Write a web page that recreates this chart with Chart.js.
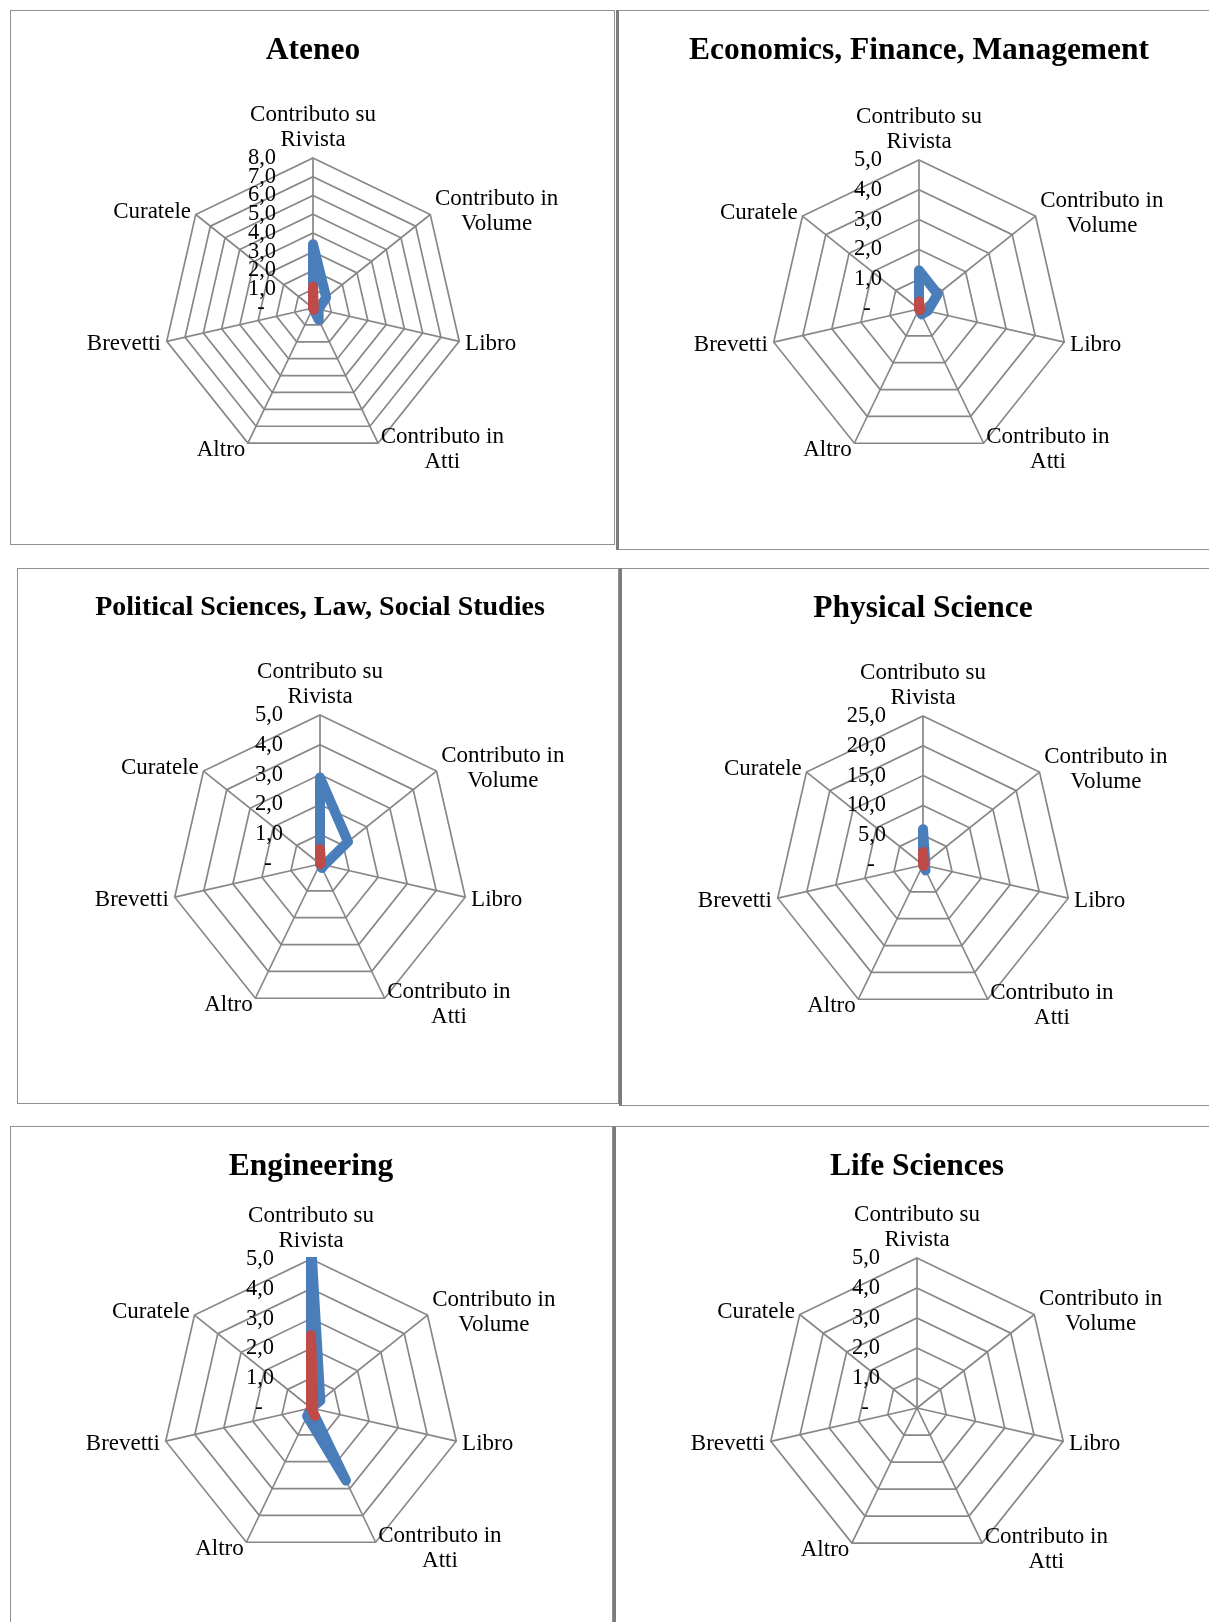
<!DOCTYPE html>
<html>
<head>
<meta charset="utf-8">
<script src="https://cdn.jsdelivr.net/npm/chart.js@4.4.1/dist/chart.umd.min.js"></script>
<style>
  html, body { margin: 0; padding: 0; background: #ffffff; }
  body { width: 1209px; height: 1622px; position: relative; overflow: hidden; }
  .frame { position: absolute; box-sizing: border-box; border: 1.5px solid #8e8e8e; }
  .frame.thick-left { border-left: 3px solid #7c7c7c; }
  canvas { position: absolute; }
</style>
</head>
<body>
<script>
// Publication types (axes of every radar)
const categories = [["Contributo su", "Rivista"], ["Contributo in", "Volume"], "Libro", ["Contributo in", "Atti"], "Altro", "Brevetti", "Curatele"];

const titles = ["Ateneo", "Economics, Finance, Management", "Political Sciences, Law, Social Studies", "Physical Science", "Engineering", "Life Sciences"];

// Series 1 (blue) and series 2 (red), one pair per area
const ateneoBlue = [3.4, 0.9, 0.3, 0.7, 0, 0, 0];
const ateneoRed = [1.15, 0.05, 0, 0.1, 0, 0, 0];
const economicsBlue = [1.3, 0.8, 0.3, 0.2, 0, 0, 0];
const economicsRed = [0.25, 0.05, 0.05, 0.05, 0, 0, 0];
const politicalBlue = [2.9, 1.2, 0.15, 0.15, 0, 0, 0];
const politicalRed = [0.5, 0.05, 0, 0, 0, 0, 0];
const physicalBlue = [6.0, 0.5, 0.3, 1.0, 0, 0, 0];
const physicalRed = [2.2, 0.2, 0.1, 0.2, 0, 0, 0];
const engineeringBlue = [5.6, 0.4, 0, 2.7, 0.3, 0, 0];
const engineeringRed = [2.45, 0.1, 0, 0.3, 0, 0, 0];
const lifeBlue = [null, null, null, null, null, null, null];
const lifeRed = [null, null, null, null, null, null, null];

// Value-axis tick labels
const ticksToEight = ["-\u2002", "1,0", "2,0", "3,0", "4,0", "5,0", "6,0", "7,0", "8,0"];
const ticksToFive = ["-\u2002", "1,0", "2,0", "3,0", "4,0", "5,0"];
const ticksToTwentyFive = ["-\u2002", "5,0", "10,0", "15,0", "20,0", "25,0"];

const scaleMax = [8, 5, 5, 25, 5, 5];
const scaleStep = [1, 1, 1, 5, 1, 1];

const seriesBlue = [ateneoBlue, economicsBlue, politicalBlue, physicalBlue, engineeringBlue, lifeBlue];
const seriesRed = [ateneoRed, economicsRed, politicalRed, physicalRed, engineeringRed, lifeRed];
const tickSets = [ticksToEight, ticksToFive, ticksToFive, ticksToTwentyFive, ticksToFive, ticksToFive];

// Page layout: frame box [left, top, right, bottom], radar centre and radius, title line
const layout = [
  { box: [10, 10, 615, 545], cx: 313, cy: 308, r: 150, titleY: 51, titleSize: 31.5, thick: false },
  { box: [616, 10, 1214, 550], cx: 919, cy: 309, r: 149, titleY: 51, titleSize: 31.5, thick: true },
  { box: [17, 568, 619, 1104], cx: 320, cy: 864, r: 149, titleY: 608, titleSize: 28, thick: false },
  { box: [619, 568, 1214, 1106], cx: 923, cy: 865, r: 149, titleY: 609, titleSize: 31.5, thick: true },
  { box: [10, 1126, 613, 1630], cx: 311, cy: 1408, r: 149, titleY: 1167, titleSize: 31.5, thick: false },
  { box: [613, 1126, 1214, 1630], cx: 917, cy: 1408, r: 150, titleY: 1167, titleSize: 31.5, thick: true }
];

const BLUE = '#4A7EBB';
const RED = '#BE4B48';
const GRID = '#878787';
const FONT = '"Liberation Serif", "Times New Roman", serif';

// Draws the panel title, the axis names and the value labels around each radar
const panelText = {
  id: 'panelText',
  afterDraw(chart, args, opts) {
    const scale = chart.scales.r;
    const ctx = chart.ctx;
    ctx.save();
    ctx.fillStyle = '#000000';
    ctx.textBaseline = 'middle';

    ctx.font = 'bold ' + opts.titleSize + 'px ' + FONT;
    ctx.textAlign = 'center';
    ctx.fillText(opts.title, scale.xCenter, opts.titleY);

    ctx.font = '23px ' + FONT;
    const lh = 24.8;
    scale.getLabels().forEach((lab, i) => {
      const lines = Array.isArray(lab) ? lab : [lab];
      const p = scale.getPointPosition(i, scale.drawingArea + 6);
      const dx = p.x - scale.xCenter;
      const w = Math.max(...lines.map(l => ctx.measureText(l).width));
      let x = p.x;
      if (dx > 1) x = p.x + w / 2;
      else if (dx < -1) x = p.x - w / 2;
      lines.forEach((line, j) => {
        const y = Math.abs(dx) <= 1
          ? p.y - 12.5 - (lines.length - 1 - j) * lh
          : p.y + 1 + (j - (lines.length - 1) / 2) * lh;
        ctx.fillText(line, x, y);
      });
    });

    ctx.font = '22.5px ' + FONT;
    ctx.textAlign = 'right';
    scale.ticks.forEach(t => {
      const y = scale.yCenter - scale.getDistanceFromCenterForValue(t.value);
      ctx.fillText(t.label, scale.xCenter - 37, y);
    });
    ctx.restore();
  }
};

layout.forEach((cfg, k) => {
  const [bl, bt, br, bb] = cfg.box;
  const frame = document.createElement('div');
  frame.className = 'frame' + (cfg.thick ? ' thick-left' : '');
  frame.style.left = bl + 'px';
  frame.style.top = bt + 'px';
  frame.style.width = (br - bl) + 'px';
  frame.style.height = (bb - bt) + 'px';
  document.body.appendChild(frame);

  const cw = Math.min(br, 1209) - bl;
  const ch = Math.min(bb, 1622) - bt;
  const canvas = document.createElement('canvas');
  canvas.width = cw;
  canvas.height = ch;
  canvas.style.left = bl + 'px';
  canvas.style.top = bt + 'px';
  canvas.style.width = cw + 'px';
  canvas.style.height = ch + 'px';
  document.body.appendChild(canvas);

  const padLeft = cfg.cx - cfg.r - bl;
  const padTop = cfg.cy - cfg.r - bt;
  const padRight = cw - (cfg.cx + cfg.r - bl);
  const padBottom = ch - (cfg.cy + cfg.r - bt);
  const ticks = tickSets[k];
  const clip = { left: false, right: false, bottom: false, top: 2 };

  new Chart(canvas, {
    type: 'radar',
    data: {
      labels: categories,
      datasets: [
        { data: seriesBlue[k], borderColor: BLUE, order: 1, clip: clip },
        { data: seriesRed[k], borderColor: RED, order: 0, clip: clip }
      ]
    },
    options: {
      responsive: false,
      animation: false,
      events: [],
      devicePixelRatio: 1,
      layout: { padding: { left: padLeft, top: padTop, right: padRight, bottom: padBottom } },
      elements: {
        line: { borderWidth: 10, fill: false, tension: 0, borderJoinStyle: 'round', borderCapStyle: 'round' },
        point: { radius: 0, hoverRadius: 0 }
      },
      scales: {
        r: {
          min: 0,
          max: scaleMax[k],
          ticks: { stepSize: scaleStep[k], display: false, callback: (v, i) => ticks[i] },
          pointLabels: { display: false },
          grid: { color: GRID, lineWidth: 1.7 },
          angleLines: { color: GRID, lineWidth: 1.7 }
        }
      },
      plugins: {
        legend: { display: false },
        tooltip: { enabled: false },
        panelText: { title: titles[k], titleY: cfg.titleY - bt, titleSize: cfg.titleSize }
      }
    },
    plugins: [panelText]
  });
});
</script>
</body>
</html>
